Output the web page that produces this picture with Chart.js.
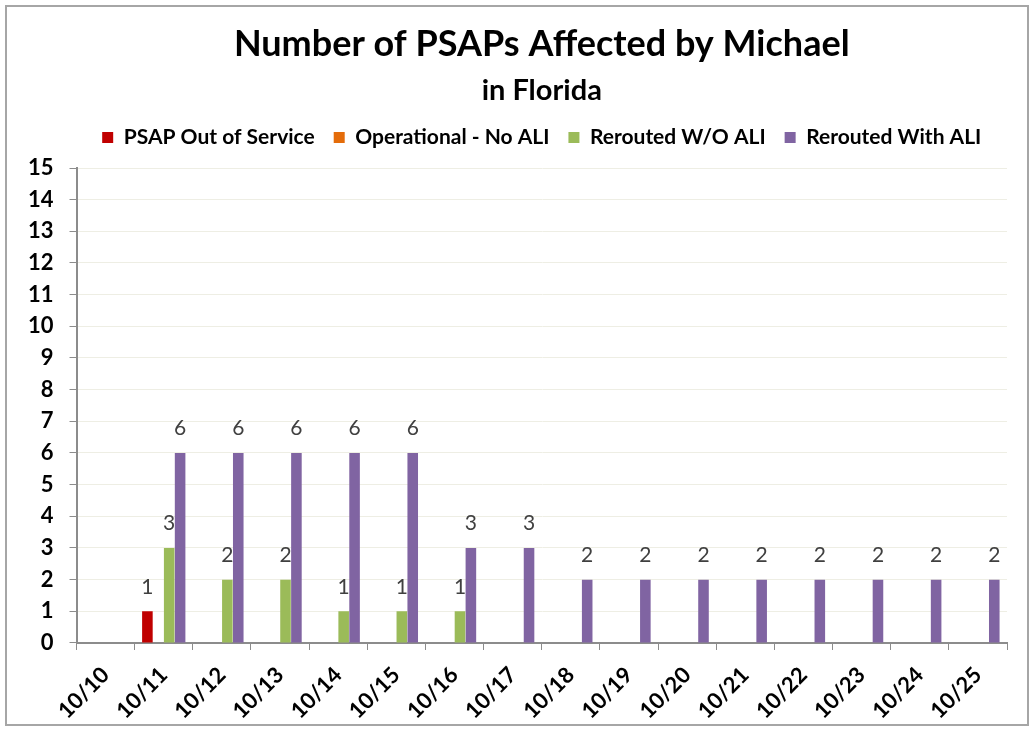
<!DOCTYPE html>
<html>
<head>
<meta charset="utf-8">
<script src="https://cdn.jsdelivr.net/npm/chart.js@4/dist/chart.umd.min.js"></script>
<style>
    body { margin: 0; background: #fff; }
    #wrap {
        position: absolute;
        left: 5px; top: 5px;
        width: 1024px; height: 721px;
        border: 2px solid #a6a6a6;
        box-sizing: border-box;
    }
</style>
</head>
<body>
<div id="wrap"><canvas id="chart"></canvas></div>
<script>
/* ===== DATA ===== */
const dates = ['10/10', '10/11', '10/12', '10/13', '10/14', '10/15', '10/16', '10/17',
               '10/18', '10/19', '10/20', '10/21', '10/22', '10/23', '10/24', '10/25'];
const outOfService = [0, 1, 0, 0, 0, 0, 0, 0, 0, 0, 0, 0, 0, 0, 0, 0];
const operationalNoAli = [0, 0, 0, 0, 0, 0, 0, 0, 0, 0, 0, 0, 0, 0, 0, 0];
const reroutedNoAli = [0, 3, 2, 2, 1, 1, 1, 0, 0, 0, 0, 0, 0, 0, 0, 0];
const reroutedWithAli = [0, 6, 6, 6, 6, 6, 3, 3, 2, 2, 2, 2, 2, 2, 2, 2];

const FONT = 'Lato, "Open Sans", sans-serif';

/* ===== PLUGINS ===== */
// draws the number above each non-zero bar
const barLabels = {
    id: 'barLabels',
    afterDatasetsDraw(chart) {
        const ctx = chart.ctx;
        ctx.save();
        ctx.font = '21px ' + FONT;
        ctx.fillStyle = '#404040';
        ctx.textAlign = 'center';
        ctx.textBaseline = 'bottom';
        chart.data.datasets.forEach((ds, i) => {
            const meta = chart.getDatasetMeta(i);
            meta.data.forEach((bar, j) => {
                if (ds.data[j] > 0) {
                    ctx.fillText(ds.data[j], bar.x, bar.y - 14);
                }
            });
        });
        ctx.restore();
    }
};

// a bit more room under the legend
const legendGap = {
    id: 'legendGap',
    beforeInit(chart) {
        const fit = chart.legend.fit;
        chart.legend.fit = function () {
            fit.bind(chart.legend)();
            this.height += 10;
        };
    }
};

/* ===== CHART ===== */
new Chart(document.getElementById('chart'), {
    type: 'bar',
    data: {
        labels: dates,
        datasets: [
            { label: 'PSAP Out of Service', data: outOfService, backgroundColor: '#c00000' },
            { label: 'Operational - No ALI', data: operationalNoAli, backgroundColor: '#e46c0a' },
            { label: 'Rerouted W/O ALI', data: reroutedNoAli, backgroundColor: '#9bbb59' },
            { label: 'Rerouted With ALI', data: reroutedWithAli, backgroundColor: '#8064a2' }
        ]
    },
    options: {
        responsive: true,
        maintainAspectRatio: false,
        animation: false,
        categoryPercentage: 0.75,
        barPercentage: 0.97,
        layout: { padding: { left: 5, right: 20, top: 4, bottom: -12 } },
        plugins: {
            title: {
                display: true,
                fullSize: false,
                text: 'Number of PSAPs Affected by Michael',
                color: '#000',
                font: { family: FONT, size: 36, weight: 'bold' },
                padding: { top: 12, bottom: 7 }
            },
            subtitle: {
                display: true,
                fullSize: false,
                text: 'in Florida',
                color: '#000',
                font: { family: FONT, size: 29, weight: 'bold' },
                padding: { bottom: 0 }
            },
            legend: {
                position: 'top',
                fullSize: false,
                labels: {
                    color: '#000',
                    boxWidth: 11,
                    boxHeight: 11,
                    padding: 19,
                    font: { family: FONT, size: 21, weight: 'bold' }
                }
            },
            tooltip: { enabled: false }
        },
        scales: {
            x: {
                grid: {
                    drawOnChartArea: false,
                    drawTicks: true,
                    tickLength: 7,
                    tickColor: '#8c8c8c'
                },
                border: { color: '#8c8c8c', width: 2 },
                ticks: {
                    color: '#000',
                    maxRotation: 45,
                    minRotation: 45,
                    autoSkip: false,
                    padding: 12,
                    font: { family: FONT, size: 22, weight: 'bold' }
                }
            },
            y: {
                min: 0,
                max: 15,
                ticks: {
                    stepSize: 1,
                    autoSkip: false,
                    color: '#000',
                    padding: 16,
                    font: { family: FONT, size: 22, weight: 'bold' }
                },
                grid: {
                    color: '#eeeee4',
                    tickLength: 7,
                    tickColor: '#8c8c8c'
                },
                border: { color: '#8c8c8c', width: 2 }
            }
        }
    },
    plugins: [barLabels, legendGap]
});
</script>
</body>
</html>
